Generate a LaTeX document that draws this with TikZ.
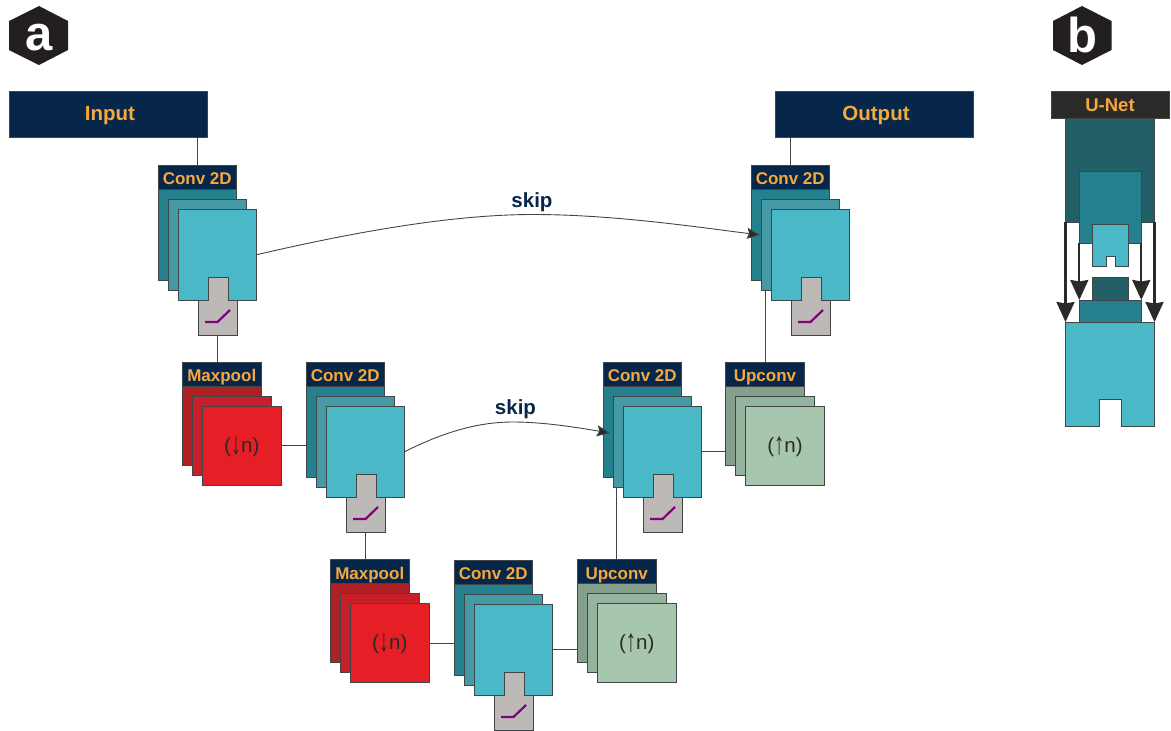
\documentclass[tikz,border=0pt]{standalone}
\usepackage{fontspec}
\setmainfont{Liberation Sans}
\usetikzlibrary{arrows.meta,calc}
\definecolor{navy}{HTML}{06264A}
\definecolor{orangeT}{HTML}{F5A83E}
\definecolor{tealA}{HTML}{25808D}
\definecolor{tealB}{HTML}{459AA6}
\definecolor{tealC}{HTML}{4AB8C6}
\definecolor{tealD}{HTML}{235F66}
\definecolor{grayT}{HTML}{BDB9B6}
\definecolor{purp}{HTML}{800080}
\definecolor{redA}{HTML}{AE2024}
\definecolor{redB}{HTML}{C8202A}
\definecolor{redC}{HTML}{E61E26}
\definecolor{upA}{HTML}{84A08C}
\definecolor{upB}{HTML}{95B4A0}
\definecolor{upC}{HTML}{A7C6AE}
\definecolor{inkD}{HTML}{2B2A29}
\definecolor{hexC}{HTML}{231F20}
\definecolor{edgeC}{HTML}{404648}
\pgfdeclarelayer{bg}
\pgfsetlayers{bg,main}
\newcommand{\upd}{\raisebox{-2pt}{\scalebox{1}[1.55]{↓}}}
\newcommand{\upu}{\raisebox{-2pt}{\scalebox{1}[1.55]{↑}}}
\tikzset{
  x=1pt,y=-1pt,
  box/.style={draw=edgeC,line width=0.9pt,inner sep=0pt,outer sep=0pt,anchor=north west},
  layerbox/.style n args={3}{box,minimum width=#1pt,minimum height=#2pt,fill=#3},
  headbox/.style={box,fill=navy,minimum width=78.5pt,minimum height=24pt,text=orangeT,text height=14.6pt,text depth=0pt,font=\fontsize{17}{17}\selectfont\bfseries},
  wideBox/.style={box,fill=navy,minimum width=198pt,minimum height=46pt,text=orangeT,text height=12pt,text depth=0pt,font=\fontsize{20.5}{20.5}\selectfont\bfseries},
  opLabel/.style={text=inkD,text height=13pt,text depth=0pt,font=\fontsize{20.5}{20.5}\selectfont},
  wire/.style={draw=edgeC,line width=0.9pt},
  skipline/.style={draw=edgeC,line width=0.9pt,-{Stealth[length=13pt,width=11pt,inset=2pt,fill=inkD]}},
  skiplabel/.style={text=navy,anchor=base,inner sep=0pt,font=\fontsize{20.5}{20.5}\selectfont\bfseries},
  hexa/.style={fill=hexC,draw=none},
  hexlabel/.style={text=white,anchor=base,inner sep=0pt,font=\fontsize{49}{49}\selectfont\bfseries},
  bigarrow/.style={draw=inkD,line width=2.3pt,-{Stealth[length=20pt,width=18pt,inset=1.5pt,fill=inkD]}},
}
% Conv block
\newcommand{\convblock}[3]{%
  \begin{scope}[shift={(#2,#3)}]
    \node[layerbox={78.5}{115}{tealA}] (#1-b) at (0,0) {};
    \node[headbox] (#1-h) at (0,0) {Conv 2D};
    \node[layerbox={78.5}{91}{tealB}] (#1-m) at (10,34) {};
    \node[layerbox={78.5}{91.5}{tealC}] (#1-f) at (20,44) {};
    \draw[draw=edgeC,line width=0.9pt,fill=grayT]
      (40,135.5) -- (50,135.5) -- (50,112) -- (70,112) -- (70,135.5) -- (79,135.5)
      -- (79,170) -- (40,170) -- cycle;
    \node[box,draw=none,minimum width=39pt,minimum height=34.5pt] (#1-g) at (40,135.5) {};
    \draw[purp,line width=2.2pt] (47,157) -- (59.5,157) -- (72,145);
  \end{scope}}
% Plain block (maxpool / upconv)
\newcommand{\plainblock}[8]{%
  \begin{scope}[shift={(#2,#3)}]
    \node[layerbox={78.5}{103}{#5}] (#1-b) at (0,0) {};
    \node[headbox] (#1-h) at (0,0) {#4};
    \node[layerbox={78.5}{79}{#6}] (#1-m) at (10,34) {};
    \node[layerbox={78.5}{79}{#7},opLabel] (#1-f) at (20,44) {#8};
  \end{scope}}
\begin{document}
\begin{tikzpicture}
\useasboundingbox (0,0) rectangle (1171,731);

% hexagon badges
\fill[hexa] (39,6) -- (68,21) -- (68,50) -- (39,65) -- (9,50) -- (9,21) -- cycle;
\node[hexlabel] (lblA) at (39.5,50) {a};
\fill[hexa] (1082,6) -- (1111.5,21) -- (1111.5,50) -- (1082,65) -- (1053,50) -- (1053,21) -- cycle;
\node[hexlabel] (lblB) at (1082,52.5) {b};

% input/output
\node[wideBox] (input) at (9,91) {\hspace*{4pt}Input};
\node[wideBox] (output) at (775,91) {\hspace*{4pt}Output};

% blocks
\convblock{c1}{158}{165}
\convblock{c4}{751}{165}
\convblock{c2}{306}{362}
\convblock{c3}{603}{362}
\convblock{c5}{454}{560}
\plainblock{mp1}{182.5}{362}{Maxpool}{redA}{redB}{redC}{(\upd n)}
\plainblock{mp2}{330.5}{559.7}{Maxpool}{redA}{redB}{redC}{(\upd n)}
\plainblock{up1}{725.7}{362}{Upconv}{upA}{upB}{upC}{(\upu n)}
\plainblock{up2}{577.5}{559.7}{Upconv}{upA}{upB}{upC}{(\upu n)}

% connectors behind blocks
\begin{pgfonlayer}{bg}
  \draw[wire] (c1-h.north) -- (c1-h.north |- input.south);
  \draw[wire] (c4-h.north) -- (c4-h.north |- output.south);
  \draw[wire] (c1-g.south) -- (c1-g.south |- mp1-h.north);
  \draw[wire] (mp1-f.east) -- (mp1-f.east -| c2-m.center);
  \draw[wire] (c2-g.south) -- (c2-g.south |- mp2-h.north);
  \draw[wire] (mp2-f.east) -- (mp2-f.east -| c5-m.center);
  \draw[wire] (c5-f.east) -- (c5-f.east -| up2-m.center);
  \draw[wire] (up2-h.north) -- (up2-h.north |- c3-m.south);
  \draw[wire] (c3-f.east) -- (c3-f.east -| up1-m.center);
  \draw[wire] (up1-h.north) -- (up1-h.north |- c4-m.south);
\end{pgfonlayer}

% skips
\coordinate (t1) at (760,235);
\coordinate (t2) at (610,433);
\draw[skipline] (c1-f.east) .. controls (350,233) and (450,214.5) .. (533,214.5)
   .. controls (610,214.5) and (690,226) .. (t1);
\draw[skipline] (c2-f.east) .. controls (440,434) and (475,422) .. (513,422)
   .. controls (545,422) and (580,428) .. (t2);
\node[skiplabel] (s1) at (532,207.3) {skip};
\node[skiplabel] (s2) at (515.5,414) {skip};

% panel b
\node[layerbox={89}{104}{tealD}] (e1) at (1065.5,118) {};
\node[box,fill=inkD,minimum width=118pt,minimum height=27.5pt,text=orangeT,text height=13pt,text depth=0pt,font=\fontsize{18.5}{18.5}\selectfont\bfseries] (unet) at (1051,91) {U-Net};
\node[layerbox={62}{71.5}{tealA}] (e2) at (1079.3,171.7) {};
\node[layerbox={35.5}{41.5}{tealC}] (e3) at (1092.6,224.7) {};
\node[box,fill=white,minimum width=9pt,minimum height=10.5pt] (e3n) at (1106,256) {};
\node[layerbox={36}{22.5}{tealD}] (d3) at (1092,277.7) {};
\node[layerbox={62}{22}{tealA}] (d2) at (1079.3,300) {};
\node[layerbox={89}{104}{tealC}] (d1) at (1065.5,322) {};
\node[box,fill=white,minimum width=22pt,minimum height=27pt] (d1n) at (1099.3,399) {};
\fill[white] ($(e3n.south west)+(0.5,-0.5)$) rectangle ($(e3n.south east)+(-0.5,1.4)$);
\fill[white] ($(d1n.south west)+(0.5,-0.5)$) rectangle ($(d1n.south east)+(-0.5,1.4)$);
\draw[bigarrow] (e1.south west) -- (d1.north west);
\draw[bigarrow] (e1.south east) -- (d1.north east);
\draw[bigarrow] (e2.south west) -- (d2.north west);
\draw[bigarrow] (e2.south east) -- (d2.north east);
\end{tikzpicture}
\end{document}
